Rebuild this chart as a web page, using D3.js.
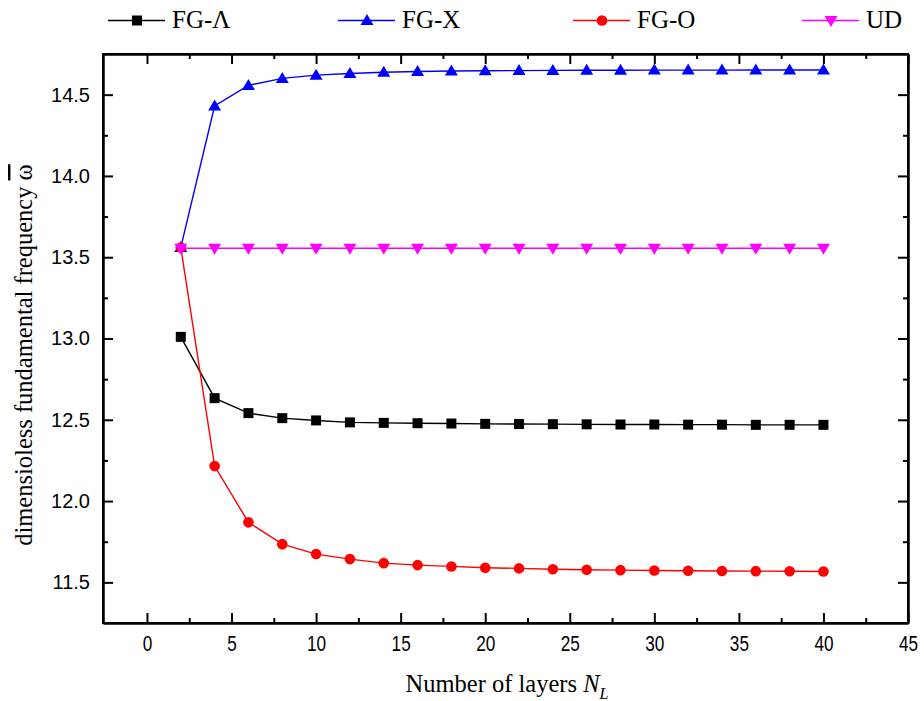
<!DOCTYPE html>
<html>
<head>
<meta charset="utf-8">
<script src="https://cdn.jsdelivr.net/npm/d3@7.9.0/dist/d3.min.js"></script>
<style>
  body { margin: 0; background: #fff; }
  svg { display: block; }
</style>
</head>
<body>
<svg id="chart" width="924" height="701"></svg>
<script>
// layer counts
const layers = [2, 4, 6, 8, 10, 12, 14, 16, 18, 20, 22, 24, 26, 28, 30, 32, 34, 36, 38, 40];

// values
const fgLambda = [13.01, 12.633, 12.541, 12.51, 12.496, 12.484, 12.481, 12.479, 12.477, 12.475,
                  12.474, 12.473, 12.472, 12.471, 12.471, 12.470, 12.470, 12.469, 12.469, 12.469];
const fgX = [13.56, 14.43, 14.557, 14.60, 14.62, 14.63, 14.638, 14.642, 14.645, 14.647,
             14.648, 14.649, 14.650, 14.650, 14.651, 14.651, 14.651, 14.652, 14.652, 14.652];
const fgO = [13.56, 12.215, 11.869, 11.735, 11.674, 11.643, 11.618, 11.606, 11.598, 11.590,
             11.586, 11.581, 11.578, 11.575, 11.573, 11.571, 11.570, 11.569, 11.568, 11.567];
const ud = [13.555, 13.555, 13.555, 13.555, 13.555, 13.555, 13.555, 13.555, 13.555, 13.555,
            13.555, 13.555, 13.555, 13.555, 13.555, 13.555, 13.555, 13.555, 13.555, 13.555];

const xTicks = [0, 5, 10, 15, 20, 25, 30, 35, 40, 45];
const yTicks = [11.5, 12.0, 12.5, 13.0, 13.5, 14.0, 14.5];

const series = [
  { name: 'FG-\u039B', values: fgLambda, color: '#000000', shape: 'square' },
  { name: 'FG-X', values: fgX, color: '#0000ff', shape: 'up' },
  { name: 'FG-O', values: fgO, color: '#ff0000', shape: 'circle' },
  { name: 'UD', values: ud, color: '#ff00ff', shape: 'down' }
];

const svg = d3.select('#chart');
const frame = { left: 103, top: 54, right: 908, bottom: 623 };

const x = d3.scaleLinear().domain([-2.6, 45]).range([frame.left, frame.right]);
const y = d3.scaleLinear().domain([11.25, 14.75]).range([frame.bottom, frame.top]);

const tickFont = '"Liberation Sans", Arial, sans-serif';
const serif = '"Liberation Serif", "Times New Roman", serif';

// minor tick positions
const xMinor = d3.range(2.5, 45, 5);
const yMinor = d3.range(11.75, 14.75, 0.5);

// axes: ticks point inward
const axisG = svg.append('g');

const axBottom = axisG.append('g').attr('transform', `translate(0,${frame.bottom})`)
  .call(d3.axisBottom(x).tickValues(xTicks).tickSizeInner(-10).tickSizeOuter(0).tickPadding(12).tickFormat(d3.format('d')));
axBottom.append('g').call(d3.axisBottom(x).tickValues(xMinor).tickSizeInner(-5).tickSizeOuter(0).tickFormat(''));

const axTop = axisG.append('g').attr('transform', `translate(0,${frame.top})`)
  .call(d3.axisTop(x).tickValues(xTicks).tickSizeInner(-10).tickSizeOuter(0).tickFormat(''));
axTop.append('g').call(d3.axisTop(x).tickValues(xMinor).tickSizeInner(-5).tickSizeOuter(0).tickFormat(''));

const axLeft = axisG.append('g').attr('transform', `translate(${frame.left},0)`)
  .call(d3.axisLeft(y).tickValues(yTicks).tickSizeInner(-10).tickSizeOuter(0).tickPadding(13).tickFormat(d3.format('.1f')));
axLeft.append('g').call(d3.axisLeft(y).tickValues(yMinor).tickSizeInner(-5).tickSizeOuter(0).tickFormat(''));

const axRight = axisG.append('g').attr('transform', `translate(${frame.right},0)`)
  .call(d3.axisRight(y).tickValues(yTicks).tickSizeInner(-10).tickSizeOuter(0).tickFormat(''));
axRight.append('g').call(d3.axisRight(y).tickValues(yMinor).tickSizeInner(-5).tickSizeOuter(0).tickFormat(''));

axisG.selectAll('.domain').attr('stroke', '#000').attr('stroke-width', 2);
axisG.selectAll('.tick line').attr('stroke', '#000').attr('stroke-width', 2);
// x tick labels are condensed in the original
axBottom.selectAll('.tick text').attr('font-family', tickFont).attr('font-size', 22)
  .attr('fill', '#000').attr('transform', 'scale(0.78,1)');
axLeft.selectAll('.tick text').attr('font-family', tickFont).attr('font-size', 20).attr('fill', '#000');

// full frame
axisG.append('rect')
  .attr('x', frame.left).attr('y', frame.top)
  .attr('width', frame.right - frame.left).attr('height', frame.bottom - frame.top)
  .attr('fill', 'none').attr('stroke', '#000').attr('stroke-width', 2);

// marker drawing
function marker(sel, shape, color) {
  if (shape === 'square') {
    sel.append('rect').attr('x', -5).attr('y', -5).attr('width', 10).attr('height', 10).attr('fill', color);
  } else if (shape === 'circle') {
    sel.append('circle').attr('r', 5.3).attr('fill', color);
  } else if (shape === 'up') {
    sel.append('path').attr('d', 'M0,-6.5L6.5,4.5L-6.5,4.5Z').attr('fill', color);
  } else {
    sel.append('path').attr('d', 'M0,6.5L6.5,-4.5L-6.5,-4.5Z').attr('fill', color);
  }
}

const line = d3.line().x(d => x(d[0])).y(d => y(d[1]));

series.forEach(s => {
  const pts = layers.map((n, i) => [n, s.values[i]]);
  const g = svg.append('g');
  g.append('path').datum(pts).attr('d', line)
    .attr('fill', 'none').attr('stroke', s.color).attr('stroke-width', 1.4);
  g.selectAll('g.pt').data(pts).join('g').attr('class', 'pt')
    .attr('transform', d => `translate(${x(d[0])},${y(d[1])})`)
    .each(function () { marker(d3.select(this), s.shape, s.color); });
});

// legend
const legendX = [108, 338, 573, 802];
series.forEach((s, i) => {
  const g = svg.append('g').attr('transform', `translate(${legendX[i]},20.5)`);
  g.append('line').attr('x1', 0).attr('x2', 57).attr('stroke', s.color).attr('stroke-width', 1.6);
  const m = g.append('g').attr('transform', 'translate(29,0)');
  marker(m, s.shape, s.color);
  g.append('text').attr('x', 64).attr('y', 7.8)
    .attr('font-family', serif).attr('font-size', 25).attr('fill', '#000').text(s.name);
});

// axis titles
const xt = svg.append('text').attr('x', 507).attr('y', 692).attr('text-anchor', 'middle')
  .attr('font-family', serif).attr('font-size', 24.5).attr('fill', '#000');
xt.append('tspan').text('Number of layers ');
xt.append('tspan').attr('font-style', 'italic').text('N');
xt.append('tspan').attr('font-style', 'italic').attr('font-size', 16).attr('dy', 7).text('L');

const yt = svg.append('text').attr('transform', 'translate(32,355) rotate(-90)').attr('text-anchor', 'middle')
  .attr('font-family', serif).attr('font-size', 24.5).attr('fill', '#000');
yt.append('tspan').text('dimensioless fundamental frequency ');
yt.append('tspan').style('text-decoration', 'overline').text('\u03C9');
</script>
</body>
</html>
